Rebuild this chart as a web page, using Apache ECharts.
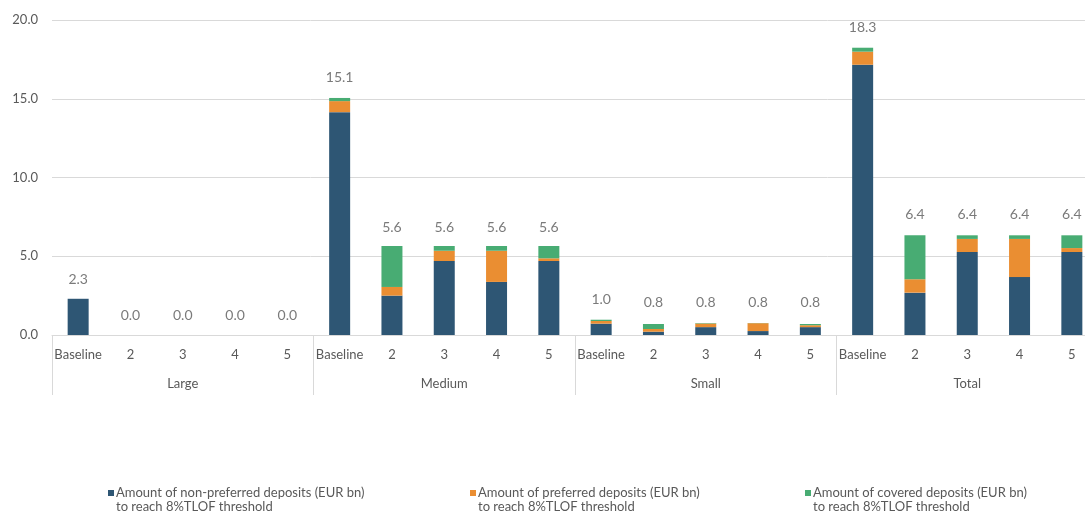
<!DOCTYPE html>
<html>
<head>
<meta charset="utf-8">
<script src="https://cdn.jsdelivr.net/npm/echarts@6/dist/echarts.min.js"></script>
<style>html,body{margin:0;padding:0;background:#fff}#c{width:1085px;height:512px}</style>
</head>
<body>
<div id="c"></div>
<script>
const groups = ['Large', 'Medium', 'Small', 'Total'];
const scenarios = ['Baseline', '2', '3', '4', '5'];
const categories = [];
groups.forEach(g => scenarios.forEach(s => categories.push(s)));

const nonPreferred = [2.3, 0, 0, 0, 0,
  14.15, 2.5, 4.7, 3.37, 4.7,
  0.72, 0.21, 0.5, 0.25, 0.5,
  17.16, 2.69, 5.27, 3.68, 5.27];
const preferred = [0, 0, 0, 0, 0,
  0.7, 0.55, 0.65, 1.98, 0.17,
  0.17, 0.17, 0.23, 0.5, 0.12,
  0.83, 0.85, 0.83, 2.42, 0.25];
const covered = [0, 0, 0, 0, 0,
  0.2, 2.6, 0.3, 0.3, 0.78,
  0.08, 0.32, 0.03, 0.01, 0.08,
  0.25, 2.79, 0.23, 0.23, 0.81];
const totals = [2.3, 0.0, 0.0, 0.0, 0.0,
  15.1, 5.6, 5.6, 5.6, 5.6,
  1.0, 0.8, 0.8, 0.8, 0.8,
  18.3, 6.4, 6.4, 6.4, 6.4];
const yTicks = [0, 5, 10, 15, 20];

const names = [
  'Amount of non-preferred deposits (EUR bn)\nto reach 8%TLOF threshold',
  'Amount of preferred deposits (EUR bn)\nto reach 8%TLOF threshold',
  'Amount of covered deposits (EUR bn)\nto reach 8%TLOF threshold'
];
const colors = ['#2E5674', '#EA8E32', '#48AC73'];
const FONT = 'Lato';
const TXT = '#595959';

const chart = echarts.init(document.getElementById('c'), null, {renderer: 'canvas'});
const barSeries = [nonPreferred, preferred, covered].map((d, i) => ({
  name: names[i],
  type: 'bar',
  stack: 'all',
  xAxisIndex: 0,
  barWidth: 21,
  data: d,
  itemStyle: {color: colors[i]},
  silent: true
}));
const legendLefts = [108, 470, 805];
chart.setOption({
  animation: false,
  textStyle: {fontFamily: FONT},
  grid: {left: 52, width: 1046, top: 20, bottom: 177, containLabel: false, outerBoundsMode: 'none'},
  legend: names.map((n, i) => ({
    data: [n],
    left: legendLefts[i],
    top: 486,
    padding: 0,
    icon: 'path://M0,0L6,0L6,6L0,6Z M0,20L0.01,20',
    itemWidth: 6,
    itemHeight: 20,
    selectedMode: false,
    textStyle: {color: TXT, fontSize: 13, fontFamily: FONT, lineHeight: 14, padding: [0, 0, 0, -3]}
  })),
  xAxis: [
    {
      type: 'category',
      data: categories,
      position: 'bottom',
      axisLine: {show: true, lineStyle: {color: '#d9d9d9', width: 1}},
      axisTick: {show: false},
      axisLabel: {interval: 0, color: TXT, fontSize: 13, fontFamily: FONT, margin: 13}
    },
    {
      type: 'category',
      data: groups,
      position: 'bottom',
      axisLine: {show: false},
      axisTick: {show: true, length: 60, interval: 0, lineStyle: {color: '#d9d9d9', width: 1}},
      axisLabel: {interval: 0, color: TXT, fontSize: 13, fontFamily: FONT, margin: 42}
    }
  ],
  yAxis: {
    type: 'value',
    min: yTicks[0],
    max: yTicks[yTicks.length - 1],
    interval: yTicks[1] - yTicks[0],
    axisLine: {show: false},
    axisTick: {show: false},
    splitLine: {lineStyle: {color: '#d9d9d9', width: 1}},
    axisLabel: {color: TXT, fontSize: 13, fontFamily: FONT, margin: 14,
      formatter: v => v.toFixed(1)}
  },
  series: barSeries.concat([{
    name: 'totals',
    type: 'scatter',
    xAxisIndex: 0,
    data: totals,
    symbolSize: 1,
    itemStyle: {color: 'rgba(0,0,0,0)'},
    silent: true,
    label: {show: true, position: 'top', distance: 12, color: TXT, fontSize: 14, fontFamily: FONT,
      formatter: p => p.value.toFixed(1)}
  }])
});
</script>
</body>
</html>
